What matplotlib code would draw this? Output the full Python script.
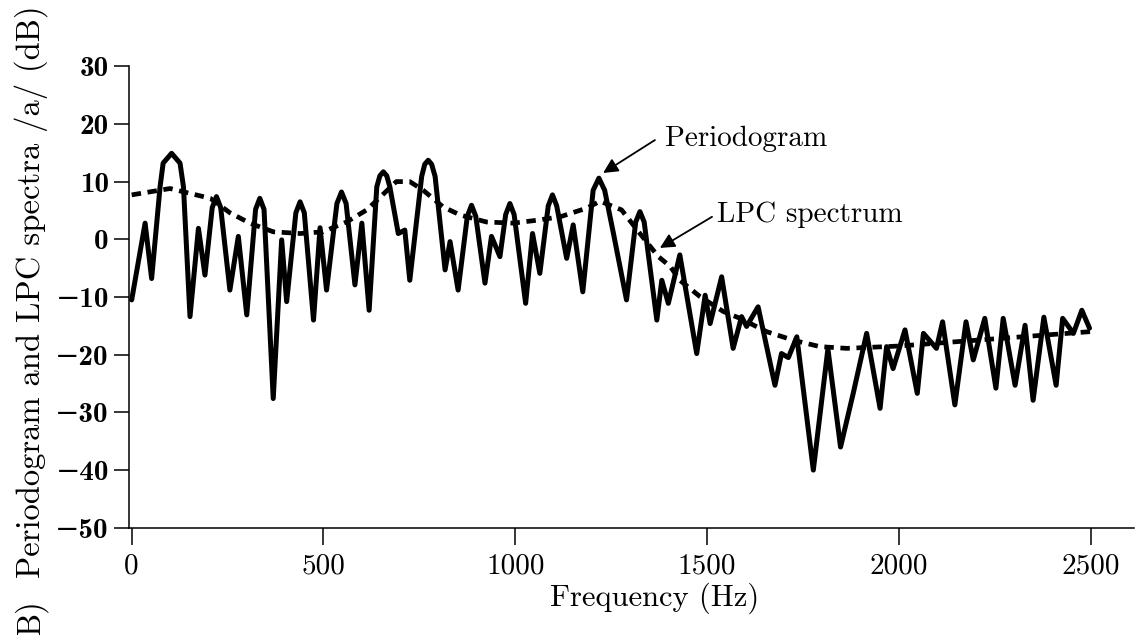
import matplotlib
matplotlib.use("Agg")
import matplotlib.pyplot as plt

# periodogram (Hz, dB)
freq = [0, 35, 52, 74, 82, 104, 126, 135, 152, 174, 191, 210, 221, 232, 256,
        278, 300, 323, 334, 345, 369, 391, 404, 428, 439, 450, 474, 491, 508,
        535, 547, 559, 582, 600, 619, 639, 647, 656, 665, 673, 695, 712, 725,
        756, 764, 773, 782, 791, 817, 830, 851, 875, 886, 897, 921, 938, 960,
        975, 986, 997, 1027, 1045, 1064, 1086, 1097, 1108, 1134, 1151, 1176,
        1203, 1218, 1233, 1256, 1290, 1314, 1325, 1336, 1369, 1382, 1399, 1429,
        1473, 1495, 1508, 1538, 1568, 1590, 1603, 1633, 1677, 1694, 1712, 1734,
        1777, 1815, 1848, 1881, 1916, 1951, 1968, 1985, 2016, 2048, 2064, 2098,
        2114, 2146, 2175, 2194, 2224, 2253, 2272, 2303, 2329, 2350, 2378, 2410,
        2427, 2455, 2477, 2497]
perio = [-10.5, 2.8, -6.8, 9.1, 13.2, 14.9, 13.2, 9.1, -13.4, 1.9, -6.2, 5.5,
         7.4, 5.5, -8.8, 0.5, -13.1, 5.2, 7.1, 5.2, -27.6, -0.1, -10.8, 4.6, 6.5,
         4.6, -14, 2, -8.8, 6.2, 8.2, 6.2, -7.9, 2.8, -12.3, 9.1, 11, 11.7, 11,
         9.1, 1.0, 1.6, -7.1, 10.9, 13, 13.7, 13, 10.9, -5.3, -0.4, -8.8, 4, 5.9,
         4, -7.6, 0.5, -3.0, 4.3, 6.2, 4.3, -11.1, 1.0, -5.9, 5.8, 7.7, 5.8, -3.3,
         2.5, -9.1, 8.5, 10.6, 8.5, 1.0, -10.5, 3, 4.8, 3, -14, -7.1, -11.1, -2.7,
         -19.8, -9.7, -14.6, -6.5, -18.9, -13.4, -15.1, -11.7, -25.3, -19.8,
         -20.5, -16.9, -40, -19, -36, -26.7, -16.3, -29.3, -18.6, -22.4, -15.7,
         -26.7, -16.3, -18.9, -14.3, -28.7, -14.3, -20.9, -13.7, -25.8, -13.7,
         -25.3, -14.9, -27.9, -13.5, -25.3, -13.7, -16.3, -12.3, -15.4]

# LPC envelope (dashed)
lpc_freq = [0, 100, 205, 256, 308, 369, 439, 499, 560, 613, 690, 725, 760, 812,
            857, 925, 995, 1056, 1117, 1186, 1221, 1277, 1325, 1373, 1404, 1429,
            1481, 1542, 1586, 1655, 1725, 1794, 1864, 2000, 2200, 2400, 2500]
lpc = [7.7, 8.8, 7.1, 4.6, 2.8, 1.3, 1.0, 1.3, 3.0, 5.1, 10.0, 10.0, 8.5, 5.6,
       4.2, 3.0, 2.8, 3.3, 3.9, 5.4, 6.6, 5.1, 1.0, -3.0, -4.7, -7.1, -9.9, -12.5,
       -13.7, -16.0, -17.5, -18.6, -18.9, -18.5, -17.5, -16.5, -16.0]

xticks = [0, 500, 1000, 1500, 2000, 2500]
yticks = [30, 20, 10, 0, -10, -20, -30, -40, -50]

rm = ['cmr10', 'DejaVu Serif']
bf = ['cmb10', 'DejaVu Serif']

fig = plt.figure(figsize=(11.36, 6.35), dpi=100)
ax = fig.add_axes([129 / 1136, (635 - 527.8) / 635, (1134 - 129) / 1136, (527.8 - 66.2) / 635])

ax.plot(lpc_freq, lpc, color='black', lw=3.4, ls=(0, (2, 1.4)))
ax.plot(freq, perio, color='black', lw=3.6, solid_joinstyle='round', solid_capstyle='round')

ax.set_xlim(-7, 2613)
ax.set_ylim(-50, 30)
for s in ['top', 'right']:
    ax.spines[s].set_visible(False)
for s in ['left', 'bottom']:
    ax.spines[s].set_linewidth(1.1)

ax.set_xticks(xticks)
ax.set_xticklabels([str(v) for v in xticks], family=rm, fontsize=21)
ax.set_yticks(yticks)
ax.set_yticklabels([str(v).replace('-', '\u2212') for v in yticks], family=bf, fontsize=21)
ax.tick_params(axis='x', direction='out', length=12, width=1.1, pad=6)
ax.tick_params(axis='y', direction='out', length=11, width=1.1, pad=3.5)

fig.text(31 / 1136, (635 - 292) / 635, 'Periodogram and LPC spectra /a/ (dB)', rotation=90,
         ha='center', va='center', family=rm, fontsize=23.5)
fig.text(31 / 1136, (635 - 617) / 635, 'B)', rotation=90, ha='center', va='center',
         family=rm, fontsize=23.5)
fig.text(655 / 1136, (635 - 598) / 635, 'Frequency (Hz)', ha='center', va='center',
         family=rm, fontsize=22)

# labels and arrows
arrow = dict(arrowstyle='-|>', color='black', lw=1.3, mutation_scale=22, shrinkA=0, shrinkB=0)
ax.annotate('', xy=(1229, 11.5), xytext=(1364, 17.2), arrowprops=arrow)
ax.text(1390, 17.4, 'Periodogram', family=rm, fontsize=21, va='center', ha='left')
ax.annotate('', xy=(1377, -1.5), xytext=(1513, 3.9), arrowprops=arrow)
ax.text(1526, 4.3, 'LPC spectrum', family=rm, fontsize=21, va='center', ha='left')

fig.savefig('out.png', dpi=100)
